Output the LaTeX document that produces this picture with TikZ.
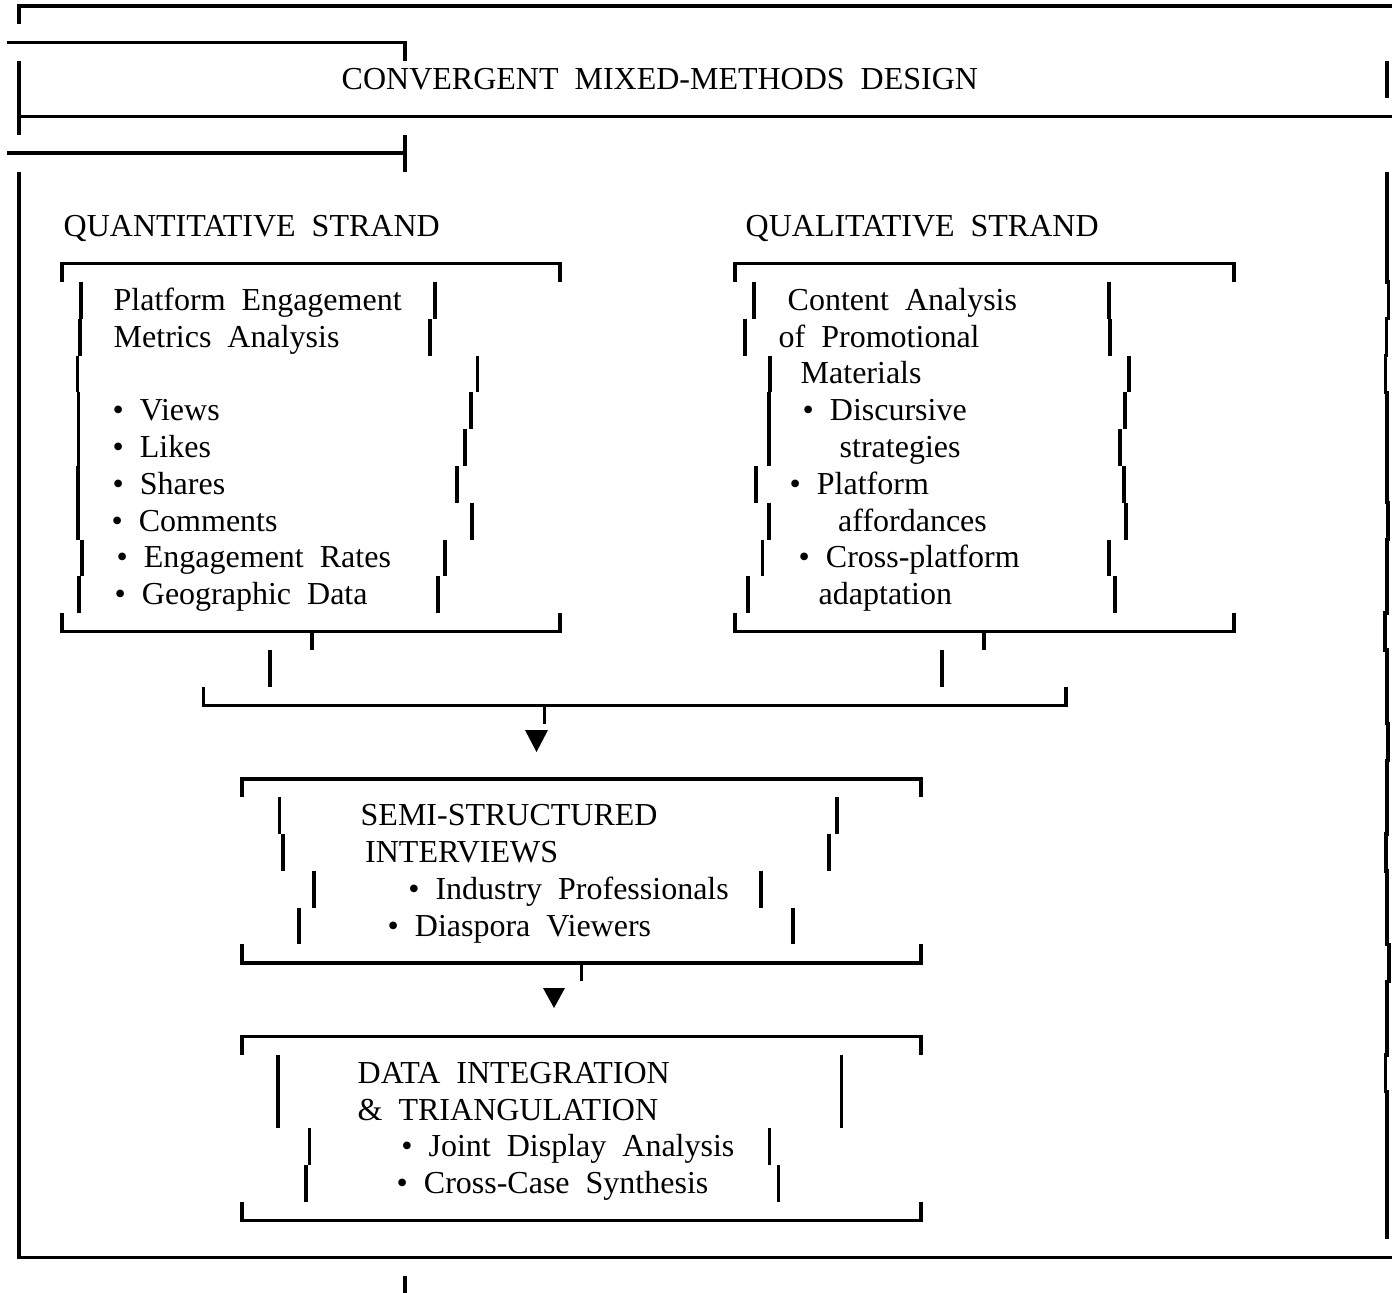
\documentclass[tikz,border=0pt]{standalone}
\usepackage{fontspec}
\setmainfont{Liberation Serif}[WordSpace=2]
\tikzset{
  lbl/.style={anchor=base west, inner sep=0pt, font=\fontsize{16}{19}\selectfont},
  flecha/.style={fill=black, draw=none}
}
\begin{document}
\begin{tikzpicture}[x=0.5pt, y=-0.5pt, line width=1.7pt]
    		\useasboundingbox (0,0) rectangle (1396,1293);
    		%%%% MARCO EXTERIOR
  		\draw [] (19,24.4) -- (19,6) -- (1392,6);
  		\draw [] (7,42.8) -- (405,42.8) -- (405,61.2);
  		\draw [] (19,61.2) -- (19,134.8);
  		\draw [] (19,116.4) -- (1392,116.4);
  		\draw [] (1387,61.2) -- (1387,98);
  		\draw [] (7,153.2) -- (405,153.2);
  		\draw [] (405,134.8) -- (405,171.6);
  		\draw [] (19,171.6) -- (19,1257.2) -- (1392,1257.2);
  		\draw [] (405,1275.6) -- (405,1293);
  		%lado derecho
  		\draw [] (1387,171.6) -- (1387,282) -- (1388.7,282) -- (1388.7,318.8)
  		  -- (1386.7,318.8) -- (1386.7,355.6) -- (1385.3,355.6) -- (1385.3,392.4)
  		  -- (1387,392.4) -- (1387,502.8) -- (1388,502.8) -- (1388,539.6)
  		  -- (1387,539.6) -- (1387,613.2) -- (1385,613.2) -- (1385,650)
  		  -- (1387,650) -- (1387,723.6) -- (1388,723.6) -- (1388,760.4)
  		  -- (1387,760.4) -- (1387,834) -- (1386,834) -- (1386,870.8)
  		  -- (1387,870.8) -- (1387,944.4) -- (1389,944.4) -- (1389,981.2)
  		  -- (1387,981.2) -- (1387,1054.8) -- (1385.5,1054.8) -- (1385.5,1091.6)
  		  -- (1387,1091.6) -- (1387,1238.8);
  		\node[lbl] at (340,89.6) (titulo) {CONVERGENT MIXED-METHODS DESIGN};

  		%%%% CUANTITATIVO
  		\node[lbl] at (62,236.8) (cuanti) {QUANTITATIVE STRAND};
  		\draw [] (62,282) -- (62,263.6) -- (560,263.6) -- (560,282);
  		\draw [] (81,282) -- (81,318.8);
  		\draw [] (435,282) -- (435,318.8);
  		\draw [] (80,318.8) -- (80,355.6);
  		\draw [] (430,318.8) -- (430,355.6);
  		\draw [] (77.5,355.6) -- (77.5,392.4);
  		\draw [] (477.5,355.6) -- (477.5,392.4);
  		\draw [] (78.6,392.4) -- (78.6,429.2);
  		\draw [] (471,392.4) -- (471,429.2);
  		\draw [] (78.6,429.2) -- (78.6,466);
  		\draw [] (465,429.2) -- (465,466);
  		\draw [] (78,466) -- (78,502.8);
  		\draw [] (457,466) -- (457,502.8);
  		\draw [] (78,502.8) -- (78,539.6);
  		\draw [] (472,502.8) -- (472,539.6);
  		\draw [] (82,539.6) -- (82,576.4);
  		\draw [] (445,539.6) -- (445,576.4);
  		\draw [] (79,576.4) -- (79,613.2);
  		\draw [] (438,576.4) -- (438,613.2);
  		\draw [] (62,613.2) -- (62,631.6) -- (560,631.6) -- (560,613.2);
  		\draw [] (312,631.6) -- (312,650);
  		\node[lbl] at (112,310.4) (pem1) {Platform Engagement};
  		\node[lbl] at (112,347.2) (pem2) {Metrics Analysis};
  		\node[lbl] at (111,420.8) (views) {• Views};
  		\node[lbl] at (111,457.6) (likes) {• Likes};
  		\node[lbl] at (111,494.4) (shares) {• Shares};
  		\node[lbl] at (110,531.2) (comments) {• Comments};
  		\node[lbl] at (115,568) (rates) {• Engagement Rates};
  		\node[lbl] at (113,604.8) (geo) {• Geographic Data};

  		%%%% CUALITATIVO
  		\node[lbl] at (744,236.8) (cuali) {QUALITATIVE STRAND};
  		\draw [] (735,282) -- (735,263.6) -- (1234,263.6) -- (1234,282);
  		\draw [] (754,282) -- (754,318.8);
  		\draw [] (1109,282) -- (1109,318.8);
  		\draw [] (745,318.8) -- (745,355.6);
  		\draw [] (1110,318.8) -- (1110,355.6);
  		\draw [] (770,355.6) -- (770,392.4);
  		\draw [] (1129,355.6) -- (1129,392.4);
  		\draw [] (769,392.4) -- (769,429.2);
  		\draw [] (1125,392.4) -- (1125,429.2);
  		\draw [] (769,429.2) -- (769,466);
  		\draw [] (1120,429.2) -- (1120,466);
  		\draw [] (756,466) -- (756,502.8);
  		\draw [] (1124,466) -- (1124,502.8);
  		\draw [] (769,502.8) -- (769,539.6);
  		\draw [] (1126,502.8) -- (1126,539.6);
  		\draw [] (762.5,539.6) -- (762.5,576.4);
  		\draw [] (1109,539.6) -- (1109,576.4);
  		\draw [] (748,576.4) -- (748,613.2);
  		\draw [] (1115,576.4) -- (1115,613.2);
  		\draw [] (735,613.2) -- (735,631.6) -- (1234,631.6) -- (1234,613.2);
  		\draw [] (984,631.6) -- (984,650);
  		\node[lbl] at (786,310.4) (ca1) {Content Analysis};
  		\node[lbl] at (777,347.2) (ca2) {of Promotional};
  		\node[lbl] at (799,384) (ca3) {Materials};
  		\node[lbl] at (801,420.8) (disc) {• Discursive};
  		\node[lbl] at (838,457.6) (strat) {strategies};
  		\node[lbl] at (788,494.4) (plat) {• Platform};
  		\node[lbl] at (836.5,531.2) (aff) {affordances};
  		\node[lbl] at (797,568) (cross) {• Cross-platform};
  		\node[lbl] at (817,604.8) (adapt) {adaptation};

  		%%%% UNION
  		\draw [] (270,650) -- (270,686.8);
  		\draw [] (942,650) -- (942,686.8);
  		\draw [] (203.5,686.8) -- (203.5,705.2) -- (1066,705.2) -- (1066,686.8);
  		\draw [] (544.5,705.2) -- (544.5,723.6);
  		\path[flecha] (525,730) -- (548,730) -- (536.5,752) -- cycle;

  		%%%% ENTREVISTAS
  		\draw [] (242,797.2) -- (242,778.8) -- (921,778.8) -- (921,797.2);
  		\draw [] (279.6,797.2) -- (279.6,834);
  		\draw [] (837,797.2) -- (837,834);
  		\draw [] (283,834) -- (283,870.8);
  		\draw [] (829,834) -- (829,870.8);
  		\draw [] (314,870.8) -- (314,907.6);
  		\draw [] (761,870.8) -- (761,907.6);
  		\draw [] (299,907.6) -- (299,944.4);
  		\draw [] (793,907.6) -- (793,944.4);
  		\draw [] (242,944.4) -- (242,962.8) -- (921,962.8) -- (921,944.4);
  		\draw [] (581.5,962.8) -- (581.5,981.2);
  		\path[flecha] (543,988) -- (565,988) -- (554,1008) -- cycle;
  		\node[lbl] at (359,825.6) (semi1) {SEMI-STRUCTURED};
  		\node[lbl] at (363.5,862.4) (semi2) {INTERVIEWS};
  		\node[lbl] at (406.6,899.2) (ind) {• Industry Professionals};
  		\node[lbl] at (386,936) (dias) {• Diaspora Viewers};

  		%%%% INTEGRACION
  		\draw [] (242,1054.8) -- (242,1036.4) -- (921,1036.4) -- (921,1054.8);
  		\draw [] (278,1054.8) -- (278,1128.4);
  		\draw [] (841.6,1054.8) -- (841.6,1128.4);
  		\draw [] (309.5,1128.4) -- (309.5,1165.2);
  		\draw [] (769.5,1128.4) -- (769.5,1165.2);
  		\draw [] (306,1165.2) -- (306,1202);
  		\draw [] (778.7,1165.2) -- (778.7,1202);
  		\draw [] (242,1202) -- (242,1220.4) -- (921,1220.4) -- (921,1202);
  		\node[lbl] at (356,1083.2) (int1) {DATA INTEGRATION};
  		\node[lbl] at (356,1120) (int2) {\& TRIANGULATION};
  		\node[lbl] at (399.7,1156.8) (joint) {• Joint Display Analysis};
  		\node[lbl] at (395,1193.6) (ccs) {• Cross-Case Synthesis};
		\end{tikzpicture}
\end{document}
